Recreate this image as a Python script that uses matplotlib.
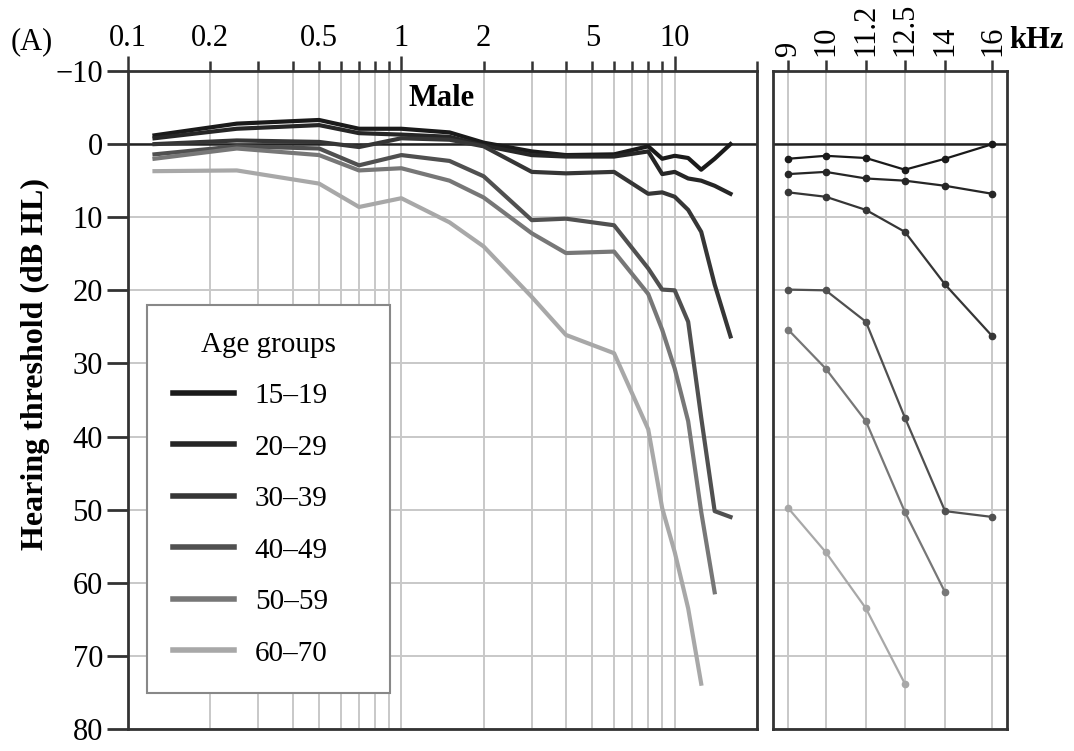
import matplotlib
matplotlib.use('Agg')
import matplotlib.pyplot as plt
from matplotlib.ticker import FixedLocator, FixedFormatter, NullLocator

plt.rcParams['font.family'] = ['Liberation Serif', 'DejaVu Serif']
plt.rcParams['font.size'] = 22

# frequencies in kHz
freq = [0.125, 0.25, 0.5, 0.7, 1, 1.5, 2, 3, 4, 6, 8, 9, 10, 11.2, 12.5, 14, 16]

groups = ['15–19', '20–29', '30–39', '40–49', '50–59', '60–70']

thr_15_19 = [-1.2, -2.8, -3.3, -2.1, -2.1, -1.6, -0.2, 1.0, 1.5, 1.4, 0.3,
             2.0, 1.6, 1.9, 3.5, 2.0, 0.0]
thr_20_29 = [-0.8, -2.1, -2.6, -1.5, -1.3, -1.0, 0.2, 1.5, 1.7, 1.7, 1.0,
             4.1, 3.8, 4.7, 5.0, 5.7, 6.8]
thr_30_39 = [0.0, -0.5, -0.3, 0.4, -0.8, -0.6, 0.3, 3.8, 4.0, 3.8, 6.8,
             6.6, 7.2, 9.0, 12.0, 19.2, 26.3]
thr_40_49 = [1.4, 0.3, 0.6, 2.9, 1.5, 2.3, 4.4, 10.4, 10.2, 11.1, 17.0,
             19.9, 20.0, 24.3, 37.4, 50.2, 51.0]
thr_50_59 = [2.0, 0.6, 1.5, 3.6, 3.3, 5.0, 7.3, 12.2, 14.9, 14.7, 20.5,
             25.4, 30.7, 37.9, 50.3, 61.3]
thr_60_70 = [3.7, 3.6, 5.4, 8.6, 7.4, 10.7, 14.0, 20.9, 26.1, 28.6, 39.0,
             49.8, 55.8, 63.5, 73.8]

thresholds = [thr_15_19, thr_20_29, thr_30_39, thr_40_49, thr_50_59, thr_60_70]
colors = ['#1a1a1a', '#262626', '#363636', '#505050', '#777777', '#a8a8a8']

decade_ticks = [0.1, 1, 10]
decade_labels = ['0.1', '1', '10']
minor_ticks = [0.2, 0.3, 0.4, 0.5, 0.6, 0.7, 0.8, 0.9,
               2, 3, 4, 5, 6, 7, 8, 9, 20]
minor_labels = ['0.2', '', '', '0.5', '', '', '', '',
                '2', '', '', '5', '', '', '', '', '']
ext_ticks = [9, 10, 11.2, 12.5, 14, 16]
ext_labels = ['9', '10', '11.2', '12.5', '14', '16']

W, H = 1074, 751
fig = plt.figure(figsize=(W / 100, H / 100), dpi=100)
ax = fig.add_axes([128 / W, 1 - 729 / H, (757 - 128) / W, (729 - 71) / H])
ax2 = fig.add_axes([773 / W, 1 - 729 / H, (1007 - 773) / W, (729 - 71) / H])

grid_kw = dict(color='#c8c8c8', lw=1.4)

# main panel
for t, c, g in zip(thresholds, colors, groups):
    ax.plot(freq[:len(t)], t, color=c, lw=3, label=g, zorder=3)
ax.axhline(0, color='#222222', lw=1.8, zorder=2)

ax.set_xscale('log')
ax.set_xlim(0.1, 20)
ax.set_ylim(80, -10)
ax.xaxis.set_major_locator(FixedLocator(decade_ticks))
ax.xaxis.set_major_formatter(FixedFormatter(decade_labels))
ax.xaxis.set_minor_locator(FixedLocator(minor_ticks))
ax.xaxis.set_minor_formatter(FixedFormatter(minor_labels))
ax.tick_params(axis='x', which='both', top=True, bottom=False, labeltop=True,
               labelbottom=False, width=1.8, color='#333333', labelsize=22)
ax.tick_params(axis='x', which='major', length=11, pad=2)
ax.tick_params(axis='x', which='minor', length=7, pad=6)
ax.set_yticks(range(-10, 81, 10))
ax.tick_params(axis='y', length=15, width=2, pad=3, color='#333333')
ax.grid(True, which='both', axis='x', **grid_kw)
ax.grid(True, which='major', axis='y', **grid_kw)
ax.set_axisbelow(True)
for s in ax.spines.values():
    s.set_linewidth(2)
    s.set_color('#333333')
ax.set_ylabel('Hearing threshold (dB HL)', fontweight='bold', fontsize=23)
ax.yaxis.set_label_coords(-0.124, 0.555)
ax.text(1.40, -6.3, 'Male', ha='center', va='center', fontweight='bold')

leg = ax.legend(title='Age groups', loc='lower left',
                bbox_to_anchor=(0.03, 0.055, 0.386, 0.5), mode='expand',
                borderaxespad=0, fontsize=21, title_fontsize=21, fancybox=False,
                edgecolor='#888888', framealpha=1, handlelength=2.1,
                handletextpad=0.7, labelspacing=0.86, borderpad=0.9)
leg.get_frame().set_linewidth(1.5)
for ln in leg.get_lines():
    ln.set_linewidth(4)

# extended high-frequency panel
for t, c in zip(thresholds, colors):
    f_hi = [f for f in freq[:len(t)] if f >= 9]
    t_hi = [v for f, v in zip(freq[:len(t)], t) if f >= 9]
    ax2.plot(f_hi, t_hi, color=c, lw=1.6, marker='o', ms=4.5, zorder=3)
ax2.axhline(0, color='#222222', lw=1.8, zorder=2)

ax2.set_xscale('log')
ax2.set_xlim(8.62, 16.67)
ax2.set_ylim(80, -10)
ax2.xaxis.set_major_locator(FixedLocator(ext_ticks))
ax2.xaxis.set_major_formatter(FixedFormatter(ext_labels))
ax2.xaxis.set_minor_locator(NullLocator())
ax2.tick_params(axis='x', top=True, bottom=False, labeltop=True, labelbottom=False,
                length=8, width=1.8, pad=3, color='#333333', labelrotation=90)
ax2.set_yticks(range(-10, 81, 10))
ax2.tick_params(axis='y', left=False, labelleft=False)
ax2.grid(True, **grid_kw)
ax2.set_axisbelow(True)
for s in ax2.spines.values():
    s.set_linewidth(2)
    s.set_color('#333333')

fig.text(32 / W, 1 - 42 / H, '(A)', ha='center', va='center')
fig.text(1036 / W, 1 - 40 / H, 'kHz', ha='center', va='center', fontweight='bold')

fig.savefig('out.png', dpi=100)
